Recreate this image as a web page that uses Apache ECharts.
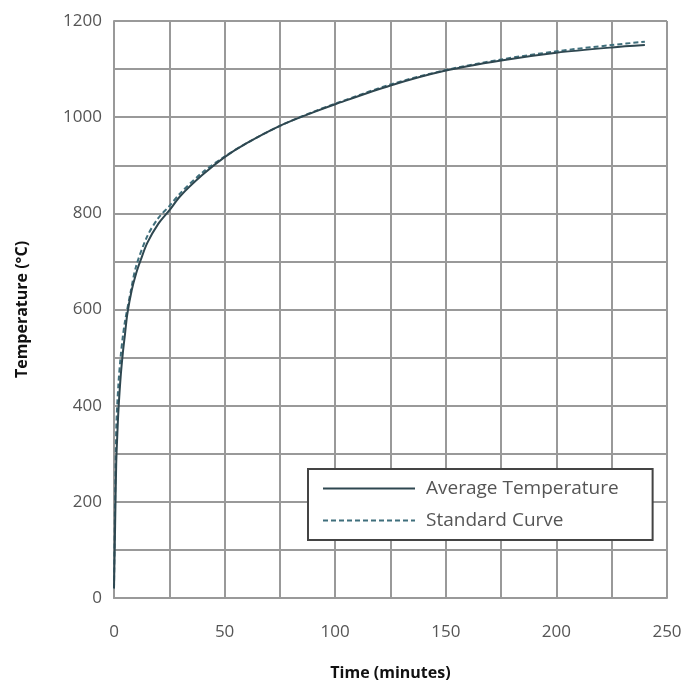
<!DOCTYPE html>
<html>
<head>
<meta charset="utf-8">
<script src="https://cdn.jsdelivr.net/npm/echarts@6/dist/echarts.min.js"></script>
<style>
  html, body { margin: 0; padding: 0; background: #fff; }
  #chart { width: 687px; height: 687px; }
</style>
</head>
<body>
<div id="chart"></div>
<script>
// data
var avgTime = [0, 0.5, 1, 1.5, 2, 3, 4, 5, 6, 8, 10, 12, 15, 20, 25, 30, 40, 50, 60, 75, 90, 100, 125, 150, 175, 200, 225, 240];
var avgTemp = [20, 150, 280, 340, 390, 460, 510, 550, 590, 640, 675, 702, 738, 778, 806, 836, 880, 917, 946, 982, 1010, 1027, 1066, 1097, 1118, 1134, 1145, 1150];
var stdTime = [0, 1, 2, 3, 4, 5, 7.5, 10, 15, 20, 25, 30, 40, 50, 60, 75, 90, 100, 125, 150, 175, 200, 225, 240];
var stdTemp = [20, 349, 445, 502, 544, 576, 636, 690, 752, 790, 815, 842, 885, 918, 946, 982, 1011, 1028, 1068, 1098, 1120, 1137, 1150, 1157];
var xTickLabels = [0, 50, 100, 150, 200, 250];
var yTickLabels = [0, 200, 400, 600, 800, 1000, 1200];

function pairs(xs, ys) {
    var out = [];
    for (var i = 0; i < xs.length; i++) out.push([xs[i], ys[i]]);
    return out;
}

var chart = echarts.init(document.getElementById('chart'));

var labelFont = {
    color: '#555',
    fontFamily: 'Open Sans',
    fontSize: 17
};

var option = {
    animation: false,
    grid: { left: 114, right: 20, top: 21, bottom: 89 },
    legend: {
        left: 308,
        top: 469,
        orient: 'vertical',
        itemWidth: 92,
        itemHeight: 20,
        itemGap: 13,
        padding: [10, 34, 10, 14],
        borderColor: '#444',
        borderWidth: 2,
        borderRadius: 0,
        backgroundColor: '#fff',
        itemStyle: { opacity: 0 },
        textStyle: { color: '#555', fontFamily: 'Open Sans', fontSize: 19, padding: [0, 0, 0, 6] },
        data: ['Average Temperature', 'Standard Curve']
    },
    xAxis: {
        type: 'value',
        min: 0,
        max: 250,
        interval: 25,
        name: 'Time (minutes)',
        nameLocation: 'middle',
        nameGap: 67,
        nameTextStyle: { color: '#111', fontWeight: 'bold', fontFamily: 'Open Sans', fontSize: 16 },
        axisLine: { lineStyle: { color: '#999', width: 2 } },
        axisTick: { show: false },
        axisLabel: {
            margin: 26,
            color: labelFont.color,
            fontFamily: labelFont.fontFamily,
            fontSize: labelFont.fontSize,
            formatter: function (v) { return xTickLabels.indexOf(v) >= 0 ? String(v) : ''; }
        },
        splitLine: { show: true, lineStyle: { color: '#999', width: 2 } }
    },
    yAxis: {
        type: 'value',
        min: 0,
        max: 1200,
        interval: 100,
        name: 'Temperature (°C)',
        nameLocation: 'middle',
        nameGap: 84,
        nameTextStyle: { color: '#111', fontWeight: 'bold', fontFamily: 'Open Sans', fontSize: 16 },
        axisLine: { show: true, lineStyle: { color: '#999', width: 2 } },
        axisTick: { show: false },
        axisLabel: {
            margin: 12,
            color: labelFont.color,
            fontFamily: labelFont.fontFamily,
            fontSize: labelFont.fontSize,
            formatter: function (v) { return yTickLabels.indexOf(v) >= 0 ? String(v) : ''; }
        },
        splitLine: { show: true, lineStyle: { color: '#999', width: 2 } }
    },
    series: [
        {
            name: 'Average Temperature',
            type: 'line',
            symbol: 'none',
            smooth: 0.3,
            data: pairs(avgTime, avgTemp),
            lineStyle: { color: '#2e4750', width: 2 },
            itemStyle: { color: '#2e4750' },
            z: 3
        },
        {
            name: 'Standard Curve',
            type: 'line',
            symbol: 'none',
            smooth: 0.3,
            data: pairs(stdTime, stdTemp),
            lineStyle: { color: '#3f6f7c', width: 2, type: [5, 3] },
            itemStyle: { color: '#3f6f7c' },
            z: 2
        }
    ]
};

chart.setOption(option, true);
</script>
</body>
</html>
